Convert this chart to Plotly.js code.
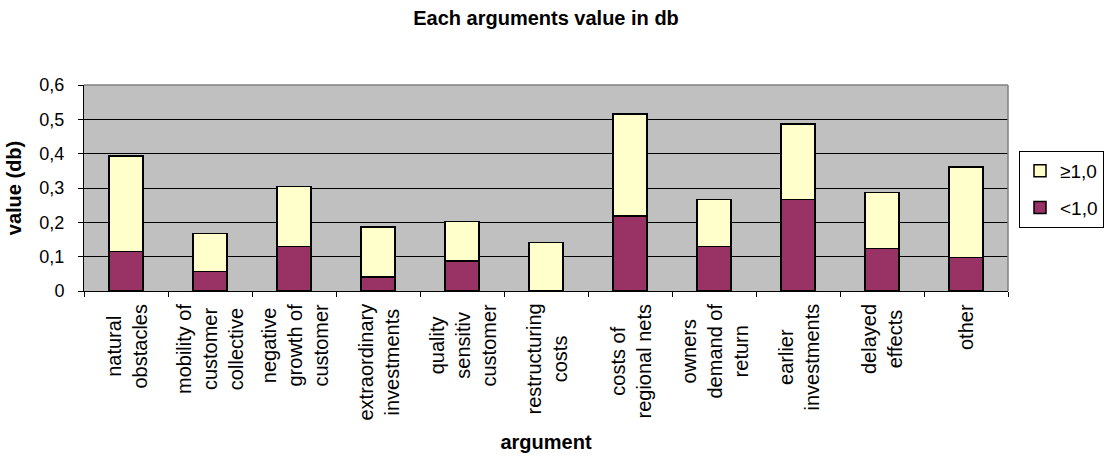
<!DOCTYPE html>
<html>
<head>
<meta charset="utf-8">
<script src="https://cdn.plot.ly/plotly-3.0.1.min.js"></script>
<style>
  html, body { margin: 0; padding: 0; background: #ffffff; }
  #chart { width: 1106px; height: 456px; }
</style>
</head>
<body>
<div id="chart"></div>
<script>
// Argument categories (line breaks mark the wrapped label lines)
const categories = [
  'natural<br>obstacles',
  'mobility of<br>customer<br>collective',
  'negative<br>growth of<br>customer',
  'extraordinary<br>investments',
  'quality<br>sensitiv<br>customer',
  'restructuring<br>costs',
  'costs of<br>regional nets',
  'owners<br>demand of<br>return',
  'earlier<br>investments',
  'delayed<br>effects',
  'other'
];

// Value (db) per argument, split by group
const belowOne   = [0.115, 0.057, 0.129, 0.041, 0.088, 0.000, 0.219, 0.129, 0.266, 0.124, 0.098];
const atLeastOne = [0.278, 0.111, 0.175, 0.146, 0.115, 0.141, 0.296, 0.137, 0.221, 0.163, 0.263];

const seriesNames = ['<1,0', '\u22651,0'];
const yTickVals = [0, 0.1, 0.2, 0.3, 0.4, 0.5, 0.6];

const FONT = 'Liberation Sans, Arial, sans-serif';

// Stacked from the base up; the upper group is listed first in the legend
const traces = [
  {
    type: 'bar', name: seriesNames[0], x: categories, y: belowOne,
    legendgroup: 'below', legendrank: 2,
    marker: { color: '#993366', line: { color: '#000000', width: 1.5 } },
    hoverinfo: 'x+y'
  },
  {
    type: 'bar', name: seriesNames[1], x: categories, y: atLeastOne,
    legendgroup: 'above', legendrank: 1,
    marker: { color: '#FFFFCC', line: { color: '#000000', width: 1.5 } },
    hoverinfo: 'x+y'
  }
];

// Category labels: rotated, lines centred, hanging below the axis
const labelAnnotations = categories.map(c => ({
  x: c, xref: 'x', y: 0, yref: 'paper',
  xanchor: 'center', yanchor: 'top', yshift: -11,
  text: c, textangle: -90, align: 'center', showarrow: false,
  font: { family: FONT, size: 20, color: '#000000' }
}));

const layout = {
  width: 1106, height: 456,
  margin: { l: 84, r: 98, t: 85, b: 165, autoexpand: false },
  paper_bgcolor: '#ffffff',
  plot_bgcolor: '#C0C0C0',
  separators: ', ',
  barmode: 'stack',
  bargap: 0.6,
  font: { family: FONT, size: 18, color: '#000000' },
  title: {
    text: '<b>Each arguments value in db</b>',
    font: { family: FONT, size: 20, color: '#000000' },
    x: 0.5, xref: 'paper', xanchor: 'center',
    y: 1 - 18 / 456, yref: 'container', yanchor: 'middle'
  },
  xaxis: {
    type: 'category',
    showticklabels: false,
    tickson: 'boundaries',
    ticks: 'outside', ticklen: 5, tickcolor: '#000000', tickwidth: 1,
    showline: true, linecolor: '#000000', linewidth: 1,
    showgrid: false, zeroline: false,
    fixedrange: true,
    title: {
      text: '<b>argument</b>',
      font: { family: FONT, size: 20, color: '#000000' },
      standoff: 143
    }
  },
  yaxis: {
    range: [0, 0.6],
    tickvals: yTickVals,
    ticks: 'outside', ticklen: 5, tickcolor: '#000000', tickwidth: 1,
    ticklabelstandoff: 10,
    tickfont: { family: FONT, size: 18, color: '#000000' },
    showline: true, linecolor: '#000000', linewidth: 1,
    showgrid: true, gridcolor: '#000000', gridwidth: 1,
    zeroline: false,
    fixedrange: true,
    title: {
      text: '<b>value (db)</b>',
      font: { family: FONT, size: 20, color: '#000000' },
      standoff: 12
    }
  },
  legend: {
    x: (1019 - 84) / 924, xref: 'paper', xanchor: 'left',
    y: (291 - 151) / 206, yref: 'paper', yanchor: 'top',
    bgcolor: '#ffffff', bordercolor: '#000000', borderwidth: 1,
    traceorder: 'grouped', tracegroupgap: 9,
    font: { family: FONT, size: 19, color: '#000000' }
  },
  shapes: [
    { type: 'line', xref: 'paper', yref: 'paper', x0: 0, x1: 1, y0: 1, y1: 1,
      line: { color: '#808080', width: 1.5 }, layer: 'above' },
    { type: 'line', xref: 'paper', yref: 'paper', x0: 1, x1: 1, y0: 0, y1: 1,
      line: { color: '#808080', width: 1.5 }, layer: 'above' }
  ],
  annotations: labelAnnotations,
  showlegend: true
};

Plotly.newPlot('chart', traces, layout, { displayModeBar: false, staticPlot: true });
</script>
</body>
</html>
